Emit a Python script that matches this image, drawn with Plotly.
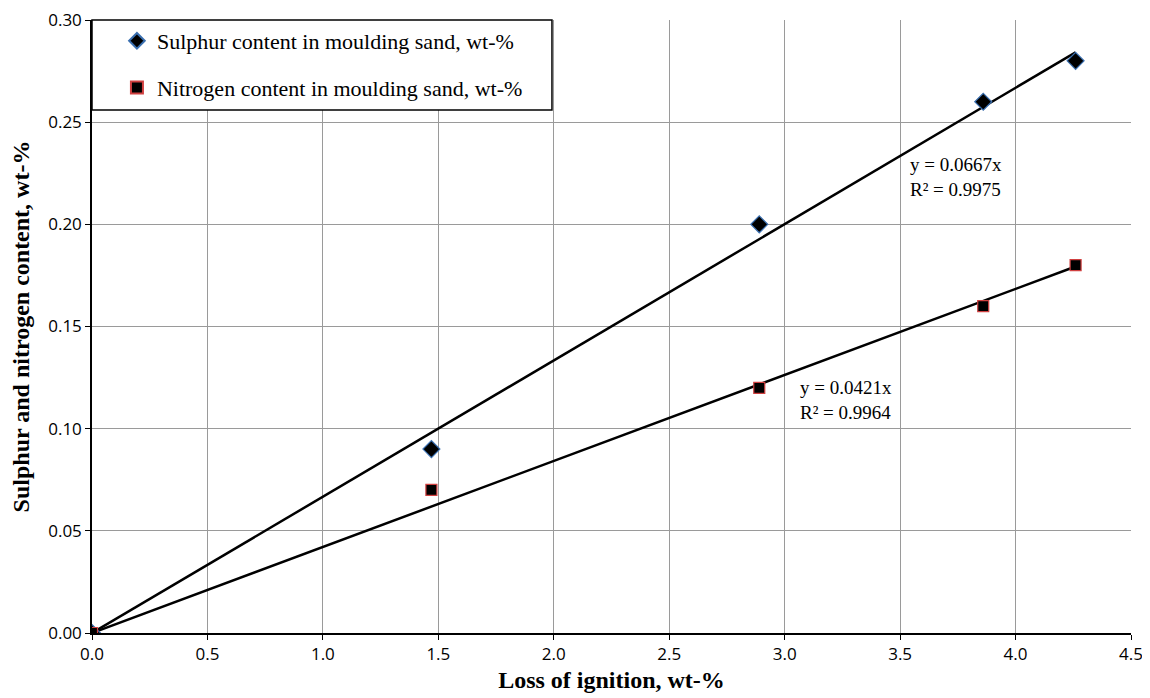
import plotly.graph_objects as go

loi = [0.0, 1.47, 2.89, 3.86, 4.26]
sulphur = [0.0, 0.09, 0.20, 0.26, 0.28]
nitrogen = [0.0, 0.07, 0.12, 0.16, 0.18]
slope_s = 0.0667
slope_n = 0.0421
trend_x = [0.0, 4.26]

fig = go.Figure()
fig.add_trace(go.Scatter(x=trend_x, y=[slope_s * v for v in trend_x], mode="lines",
                         line=dict(color="black", width=2.5), showlegend=False, hoverinfo="skip"))
fig.add_trace(go.Scatter(x=trend_x, y=[slope_n * v for v in trend_x], mode="lines",
                         line=dict(color="black", width=2.5), showlegend=False, hoverinfo="skip"))
fig.add_trace(go.Scatter(x=loi, y=sulphur, mode="markers", name="Sulphur content in moulding sand, wt-%",
                         legendgroup="s",
                         marker=dict(symbol="diamond", size=13, color="black",
                                     line=dict(color="#3a6fb0", width=1.2))))
fig.add_trace(go.Scatter(x=loi, y=nitrogen, mode="markers", name="Nitrogen content in moulding sand, wt-%",
                         legendgroup="n",
                         marker=dict(symbol="square", size=11, color="black",
                                     line=dict(color="#d04040", width=1.2))))

ann_font = dict(family="Liberation Serif", size=19, color="black")
fig.add_annotation(x=3.534, y=0.223, xref="x", yref="y", text="y = 0.0667x<br>R² = 0.9975",
                   showarrow=False, xanchor="left", align="left", font=ann_font)
fig.add_annotation(x=3.058, y=0.114, xref="x", yref="y", text="y = 0.0421x<br>R² = 0.9964",
                   showarrow=False, xanchor="left", align="left", font=ann_font)

# legend frame
fig.add_shape(type="rect", xref="paper", yref="paper", x0=0.0, x1=0.4427, y0=0.853, y1=1.0,
              line=dict(color="black", width=1.5), fillcolor="white", layer="above")

fig.update_layout(
    width=1142, height=690,
    margin=dict(l=84, r=19, t=12, b=65),
    paper_bgcolor="white", plot_bgcolor="white",
    showlegend=True,
    legend=dict(x=0.024, y=1.0, xanchor="left", yanchor="top",
                bgcolor="rgba(0,0,0,0)", borderwidth=0,
                font=dict(family="Liberation Serif", size=22, color="black"),
                tracegroupgap=15, itemsizing="constant"),
    xaxis=dict(range=[0, 4.5], dtick=0.5, tickformat=".1f",
               showgrid=True, gridcolor="#9a9a9a", gridwidth=1,
               showline=True, linecolor="black", linewidth=1.5, mirror=False,
               ticks="outside", ticklen=5, tickcolor="black",
               tickfont=dict(family="Open Sans", size=17, color="black"),
               zeroline=False, automargin=False, ticklabeloverflow="allow",
               title=dict(text="<b>Loss of ignition, wt-%</b>",
                          font=dict(family="Liberation Serif", size=24, color="black"), standoff=7)),
    yaxis=dict(range=[0, 0.30], dtick=0.05, tickformat=".2f",
               showgrid=True, gridcolor="#9a9a9a", gridwidth=1,
               showline=True, linecolor="black", linewidth=1.5, mirror=False,
               ticks="outside", ticklen=5, tickcolor="black",
               tickfont=dict(family="Open Sans", size=17, color="black"),
               zeroline=False, automargin=False, ticklabeloverflow="allow",
               title=dict(text="<b>Sulphur and nitrogen content, wt-%</b>",
                          font=dict(family="Liberation Serif", size=24, color="black"), standoff=19)),
)

fig.write_html("out.html")
